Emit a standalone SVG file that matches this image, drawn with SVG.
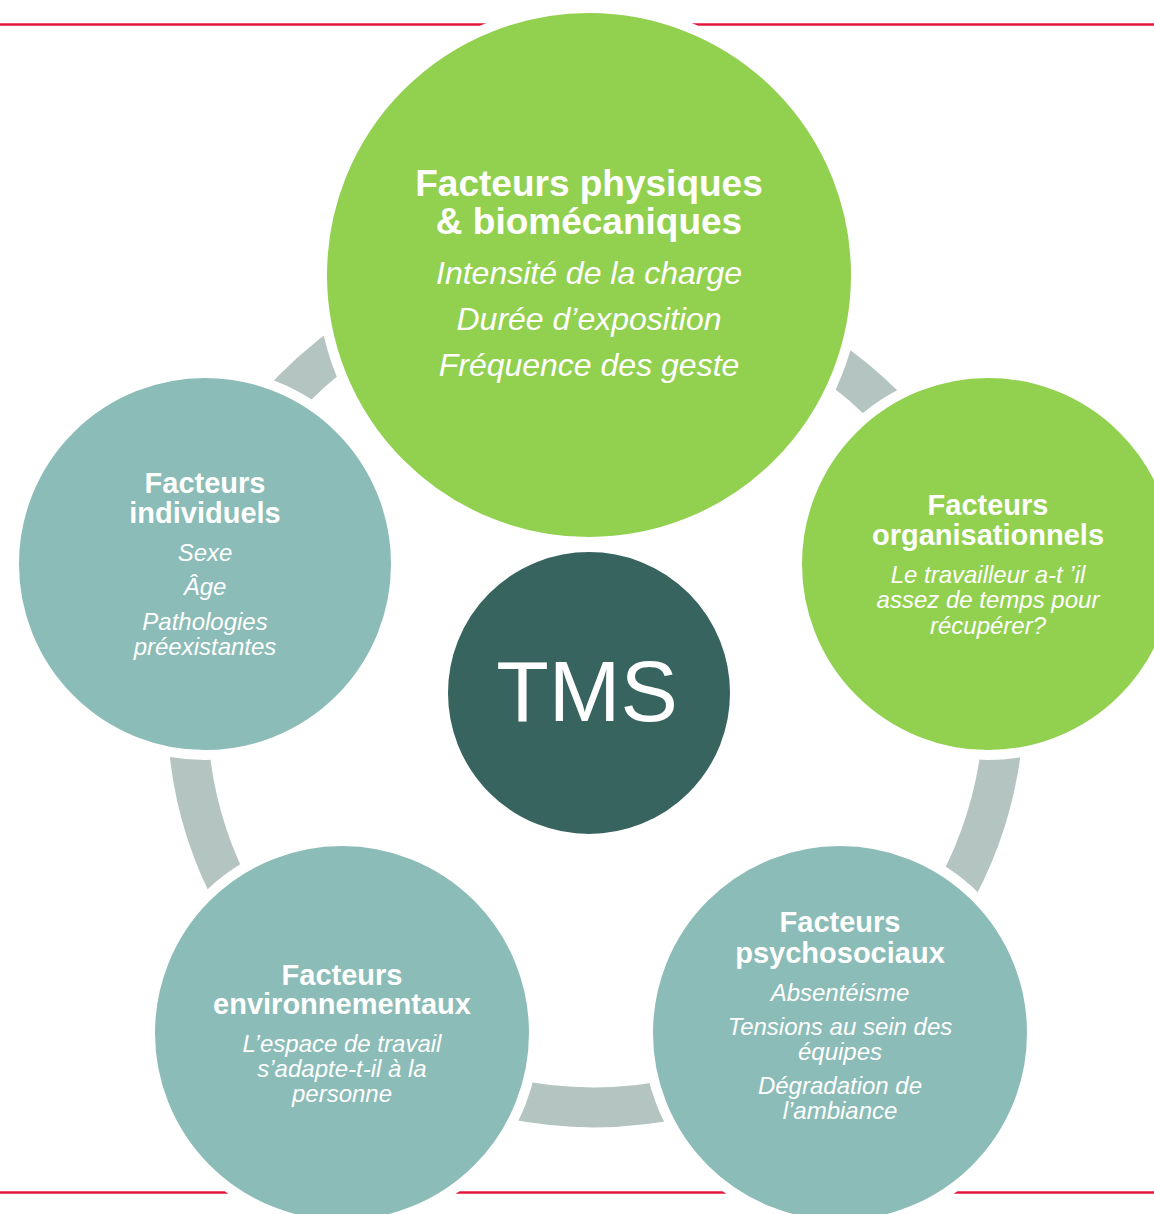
<svg xmlns="http://www.w3.org/2000/svg" width="1154" height="1214" viewBox="0 0 1154 1214">
<style>
.rule{stroke:#E3173E;stroke-width:2.5;fill:none}
.seg{fill:none;stroke:#B3C4C1;stroke-width:40}
.green{fill:#92D050;stroke:#FFFFFF;stroke-width:10}
.teal{fill:#8BBCB7;stroke:#FFFFFF;stroke-width:10}
.dark{fill:#37645F;stroke:#FFFFFF;stroke-width:10}
text{font-family:"Liberation Sans",Arial,sans-serif;fill:#FFFFFF;text-anchor:middle}
.tb{font-weight:bold;font-size:37px}
.ti{font-style:italic;font-size:32px}
.sb{font-weight:bold;font-size:29px}
.si{font-style:italic;font-size:24px}
.tms{font-size:86px}
</style>
<rect width="1154" height="1214" fill="#FFFFFF"/>
<g id="rules">
<line class="rule" x1="0" y1="24.5" x2="1154" y2="24.5"/>
<line class="rule" x1="0" y1="1192.5" x2="1154" y2="1192.5"/>
</g>
<g id="connectors">
<path class="seg" d="M353,339 A430,430 0 0 0 274,410"/>
<path class="seg" d="M819,352.7 A415,415 0 0 1 900.5,422.8"/>
<path class="seg" d="M1003,730.7 A406,406 0 0 1 948,904.8"/>
<path class="seg" d="M690,1096 A420,420 0 0 1 497,1096"/>
<path class="seg" d="M236.3,901.5 A400,400 0 0 1 187.7,730"/>
</g>
<g id="node-physiques">
<circle class="green" cx="589" cy="275" r="267"/>
<text class="tb" x="589" y="196">Facteurs physiques</text>
<text class="tb" x="589" y="234">&amp; biomécaniques</text>
<text class="ti" x="589" y="284">Intensité de la charge</text>
<text class="ti" x="589" y="330">Durée d’exposition</text>
<text class="ti" x="589" y="376">Fréquence des geste</text>
</g>
<g id="node-organisationnels">
<circle class="green" cx="988" cy="564" r="191"/>
<text class="sb" x="988" y="515">Facteurs</text>
<text class="sb" x="988" y="545">organisationnels</text>
<text class="si" x="988" y="583">Le travailleur a-t ’il</text>
<text class="si" x="988" y="608">assez de temps pour</text>
<text class="si" x="988" y="634">récupérer?</text>
</g>
<g id="node-individuels">
<circle class="teal" cx="205" cy="564" r="191"/>
<text class="sb" x="205" y="493">Facteurs</text>
<text class="sb" x="205" y="523">individuels</text>
<text class="si" x="205" y="561">Sexe</text>
<text class="si" x="205" y="595">Âge</text>
<text class="si" x="205" y="630">Pathologies</text>
<text class="si" x="205" y="655">préexistantes</text>
</g>
<g id="node-environnementaux">
<circle class="teal" cx="342" cy="1033" r="192"/>
<text class="sb" x="342" y="985">Facteurs</text>
<text class="sb" x="342" y="1014">environnementaux</text>
<text class="si" x="342" y="1052">L’espace de travail</text>
<text class="si" x="342" y="1077">s’adapte-t-il à la</text>
<text class="si" x="342" y="1102">personne</text>
</g>
<g id="node-psychosociaux">
<circle class="teal" cx="840" cy="1033" r="192"/>
<text class="sb" x="840" y="932">Facteurs</text>
<text class="sb" x="840" y="963">psychosociaux</text>
<text class="si" x="840" y="1001">Absentéisme</text>
<text class="si" x="840" y="1035">Tensions au sein des</text>
<text class="si" x="840" y="1060">équipes</text>
<text class="si" x="840" y="1094">Dégradation de</text>
<text class="si" x="840" y="1119">l’ambiance</text>
</g>
<g id="node-tms">
<circle class="dark" cx="589" cy="693" r="146"/>
<text class="tms" x="587" y="721">TMS</text>
</g>
</svg>
